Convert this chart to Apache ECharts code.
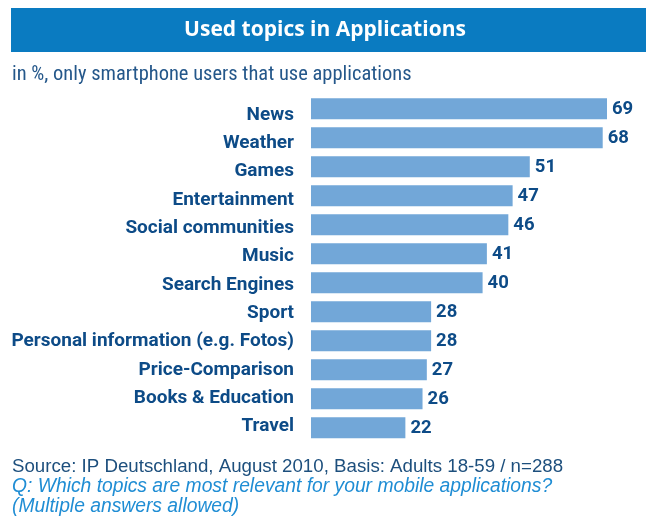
<!DOCTYPE html>
<html><head><meta charset="utf-8">
<script src="https://cdn.jsdelivr.net/npm/echarts@6/dist/echarts.min.js"></script>
<style>html,body{margin:0;padding:0;background:#fff}#c{width:646px;height:518px}</style>
</head><body><div id="c"></div>
<script>
const categories = ["News","Weather","Games","Entertainment","Social communities","Music","Search Engines","Sport","Personal information (e.g. Fotos)","Price-Comparison","Books & Education","Travel"];
const values = [69,68,51,47,46,41,40,28,28,27,26,22];
const titleText = "Used topics in Applications";
const subtitleText = "in %, only smartphone users that use applications";
const sourceText = "Source: IP Deutschland, August 2010, Basis: Adults 18-59 / n=288";
const questionText = "Q: Which topics are most relevant for your mobile applications?\n(Multiple answers allowed)";

const dark = '#0d4b87';
const chart = echarts.init(document.getElementById('c'), null, {renderer:'canvas'});
chart.setOption({
  animation:false,
  backgroundColor:'#fff',
  graphic:[
    {type:'rect', shape:{x:11,y:8,width:635,height:44}, style:{fill:'#0a7bc1'}},
    {type:'text', x:325, y:30.5, style:{text:titleText, fill:'#fff', font:'bold 21px "Open Sans", Roboto, sans-serif', textAlign:'center', textVerticalAlign:'middle'}},
    {type:'text', x:12, y:75, style:{text:subtitleText, fill:'#24578a', font:'20.5px "Roboto Condensed", Roboto, sans-serif', textVerticalAlign:'middle'}},
    {type:'text', x:12, y:467, style:{text:sourceText, fill:'#1d4f7d', font:'18.7px "Liberation Sans", Arial, sans-serif', textVerticalAlign:'middle'}},
    {type:'text', x:12, y:477, style:{text:questionText, fill:'#1f8dd4', font:'italic 19.3px "Liberation Sans", Arial, sans-serif', lineHeight:19.5, textVerticalAlign:'top'}}
  ],
  grid:[
    {left:311, top:94.2, width:296, height:348},
    {left:311, top:100.6, width:296, height:340.2}
  ],
  xAxis:[
    {gridIndex:0, type:'value', min:0, max:69, show:false},
    {gridIndex:1, type:'value', min:0, max:69, show:false}
  ],
  yAxis:[
    {gridIndex:0, type:'category', data:categories, inverse:true, axisLine:{show:false}, axisTick:{show:false}, axisLabel:{show:false}},
    {gridIndex:1, type:'category', data:categories, inverse:true, axisLine:{show:false}, axisTick:{show:false},
      axisLabel:{color:dark, fontWeight:'bold', fontSize:19, fontFamily:'Roboto, sans-serif', margin:17}}
  ],
  series:[{type:'bar', xAxisIndex:0, yAxisIndex:0, data:values, barWidth:21,
    itemStyle:{color:'#72a7d8'},
    label:{show:true, position:'right', distance:5, offset:[0,1], color:dark, fontWeight:'bold', fontSize:18.5, fontFamily:'Roboto, sans-serif'}}]
});
</script></body></html>
